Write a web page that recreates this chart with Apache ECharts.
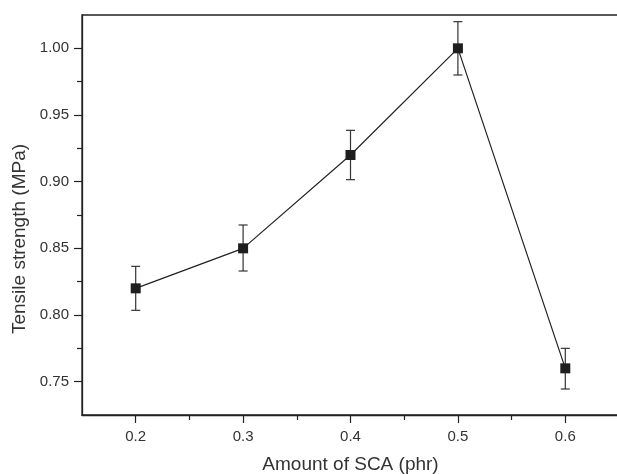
<!DOCTYPE html>
<html>
<head>
<meta charset="utf-8">
<script src="https://cdn.jsdelivr.net/npm/echarts@6/dist/echarts.min.js"></script>
<style>html,body{margin:0;padding:0;background:#fff;}#c{width:617px;height:474px;}</style>
</head>
<body>
<div id="c"></div>
<script>
const scaAmount = [0.2, 0.3, 0.4, 0.5, 0.6];
const tensileStrength = [0.82, 0.85, 0.92, 1.00, 0.76];
const errorPlus = [0.0165, 0.0175, 0.0185, 0.020, 0.015];
const errorMinus = [0.0165, 0.017, 0.0185, 0.020, 0.0155];
const xTickLabels = [0.2, 0.3, 0.4, 0.5, 0.6];
const xMinorTicks = [0.25, 0.35, 0.45, 0.55];
const yTickLabels = [0.75, 0.80, 0.85, 0.90, 0.95, 1.00];
const yMinorTicks = [0.775, 0.825, 0.875, 0.925, 0.975];

const FONT = 'Liberation Sans, Arial, sans-serif';
const INK = '#222';
const chart = echarts.init(document.getElementById('c'));

const pts = scaAmount.map((x, i) => [x, tensileStrength[i]]);
const errData = scaAmount.map((x, i) => [x, tensileStrength[i] - errorMinus[i], tensileStrength[i] + errorPlus[i]]);

chart.setOption({
  animation: false,
  backgroundColor: '#fff',
  grid: { left: 82, top: 15, width: 537, height: 400, outerBoundsMode: 'none', containLabel: false,
          show: true, borderColor: INK, borderWidth: 1.3, backgroundColor: 'transparent' },
  xAxis: [
    {
      type: 'value', min: 0.15, max: 0.65, position: 'bottom',
      name: 'Amount of SCA (phr)', nameLocation: 'middle', nameGap: 40,
      nameTextStyle: { fontFamily: FONT, fontSize: 19, color: '#333' },
      axisLine: { show: true, lineStyle: { color: INK, width: 1.3 } },
      axisTick: { show: true, inside: false, length: 8, customValues: xTickLabels, lineStyle: { color: INK, width: 1.2 } },
      axisLabel: { show: true, customValues: xTickLabels, margin: 14, fontFamily: FONT, fontSize: 15, color: '#333', formatter: v => v.toFixed(1) },
      splitLine: { show: false }
    },
    {
      type: 'value', min: 0.15, max: 0.65, position: 'bottom',
      axisLine: { show: false },
      axisTick: { show: true, inside: false, length: 5, customValues: xMinorTicks, lineStyle: { color: INK, width: 1.2 } },
      axisLabel: { show: false },
      splitLine: { show: false }
    }
  ],
  yAxis: [
    {
      type: 'value', min: 0.725, max: 1.025, position: 'left',
      name: 'Tensile strength (MPa)', nameLocation: 'middle', nameGap: 53, nameRotate: 90,
      nameTextStyle: { fontFamily: FONT, fontSize: 19, color: '#333', padding: [0, 48, 0, 0] },
      axisLine: { show: true, lineStyle: { color: INK, width: 1.3 } },
      axisTick: { show: true, inside: false, length: 8, customValues: yTickLabels, lineStyle: { color: INK, width: 1.2 } },
      axisLabel: { show: true, customValues: yTickLabels, margin: 13, fontFamily: FONT, fontSize: 15, color: '#333', formatter: v => v.toFixed(2) },
      splitLine: { show: false }
    },
    {
      type: 'value', min: 0.725, max: 1.025, position: 'left',
      axisLine: { show: false },
      axisTick: { show: true, inside: false, length: 5, customValues: yMinorTicks, lineStyle: { color: INK, width: 1.2 } },
      axisLabel: { show: false },
      splitLine: { show: false }
    }
  ],
  series: [
    {
      type: 'custom',
      xAxisIndex: 0, yAxisIndex: 0,
      data: errData,
      z: 3,
      renderItem: function (params, api) {
        const x = api.value(0);
        const lo = api.coord([x, api.value(1)]);
        const hi = api.coord([x, api.value(2)]);
        const hw = 4.5;
        const style = { stroke: '#333', lineWidth: 1.2, fill: null };
        return {
          type: 'group',
          children: [
            { type: 'line', shape: { x1: lo[0], y1: lo[1], x2: hi[0], y2: hi[1] }, style: style },
            { type: 'line', shape: { x1: hi[0] - hw, y1: hi[1], x2: hi[0] + hw, y2: hi[1] }, style: style },
            { type: 'line', shape: { x1: lo[0] - hw, y1: lo[1], x2: lo[0] + hw, y2: lo[1] }, style: style }
          ]
        };
      }
    },
    {
      type: 'line',
      xAxisIndex: 0, yAxisIndex: 0,
      data: pts,
      z: 4,
      symbol: 'rect', symbolSize: 10,
      itemStyle: { color: '#1e1e1e', borderWidth: 0 },
      lineStyle: { color: INK, width: 1.2 }
    }
  ]
});
</script>
</body>
</html>
